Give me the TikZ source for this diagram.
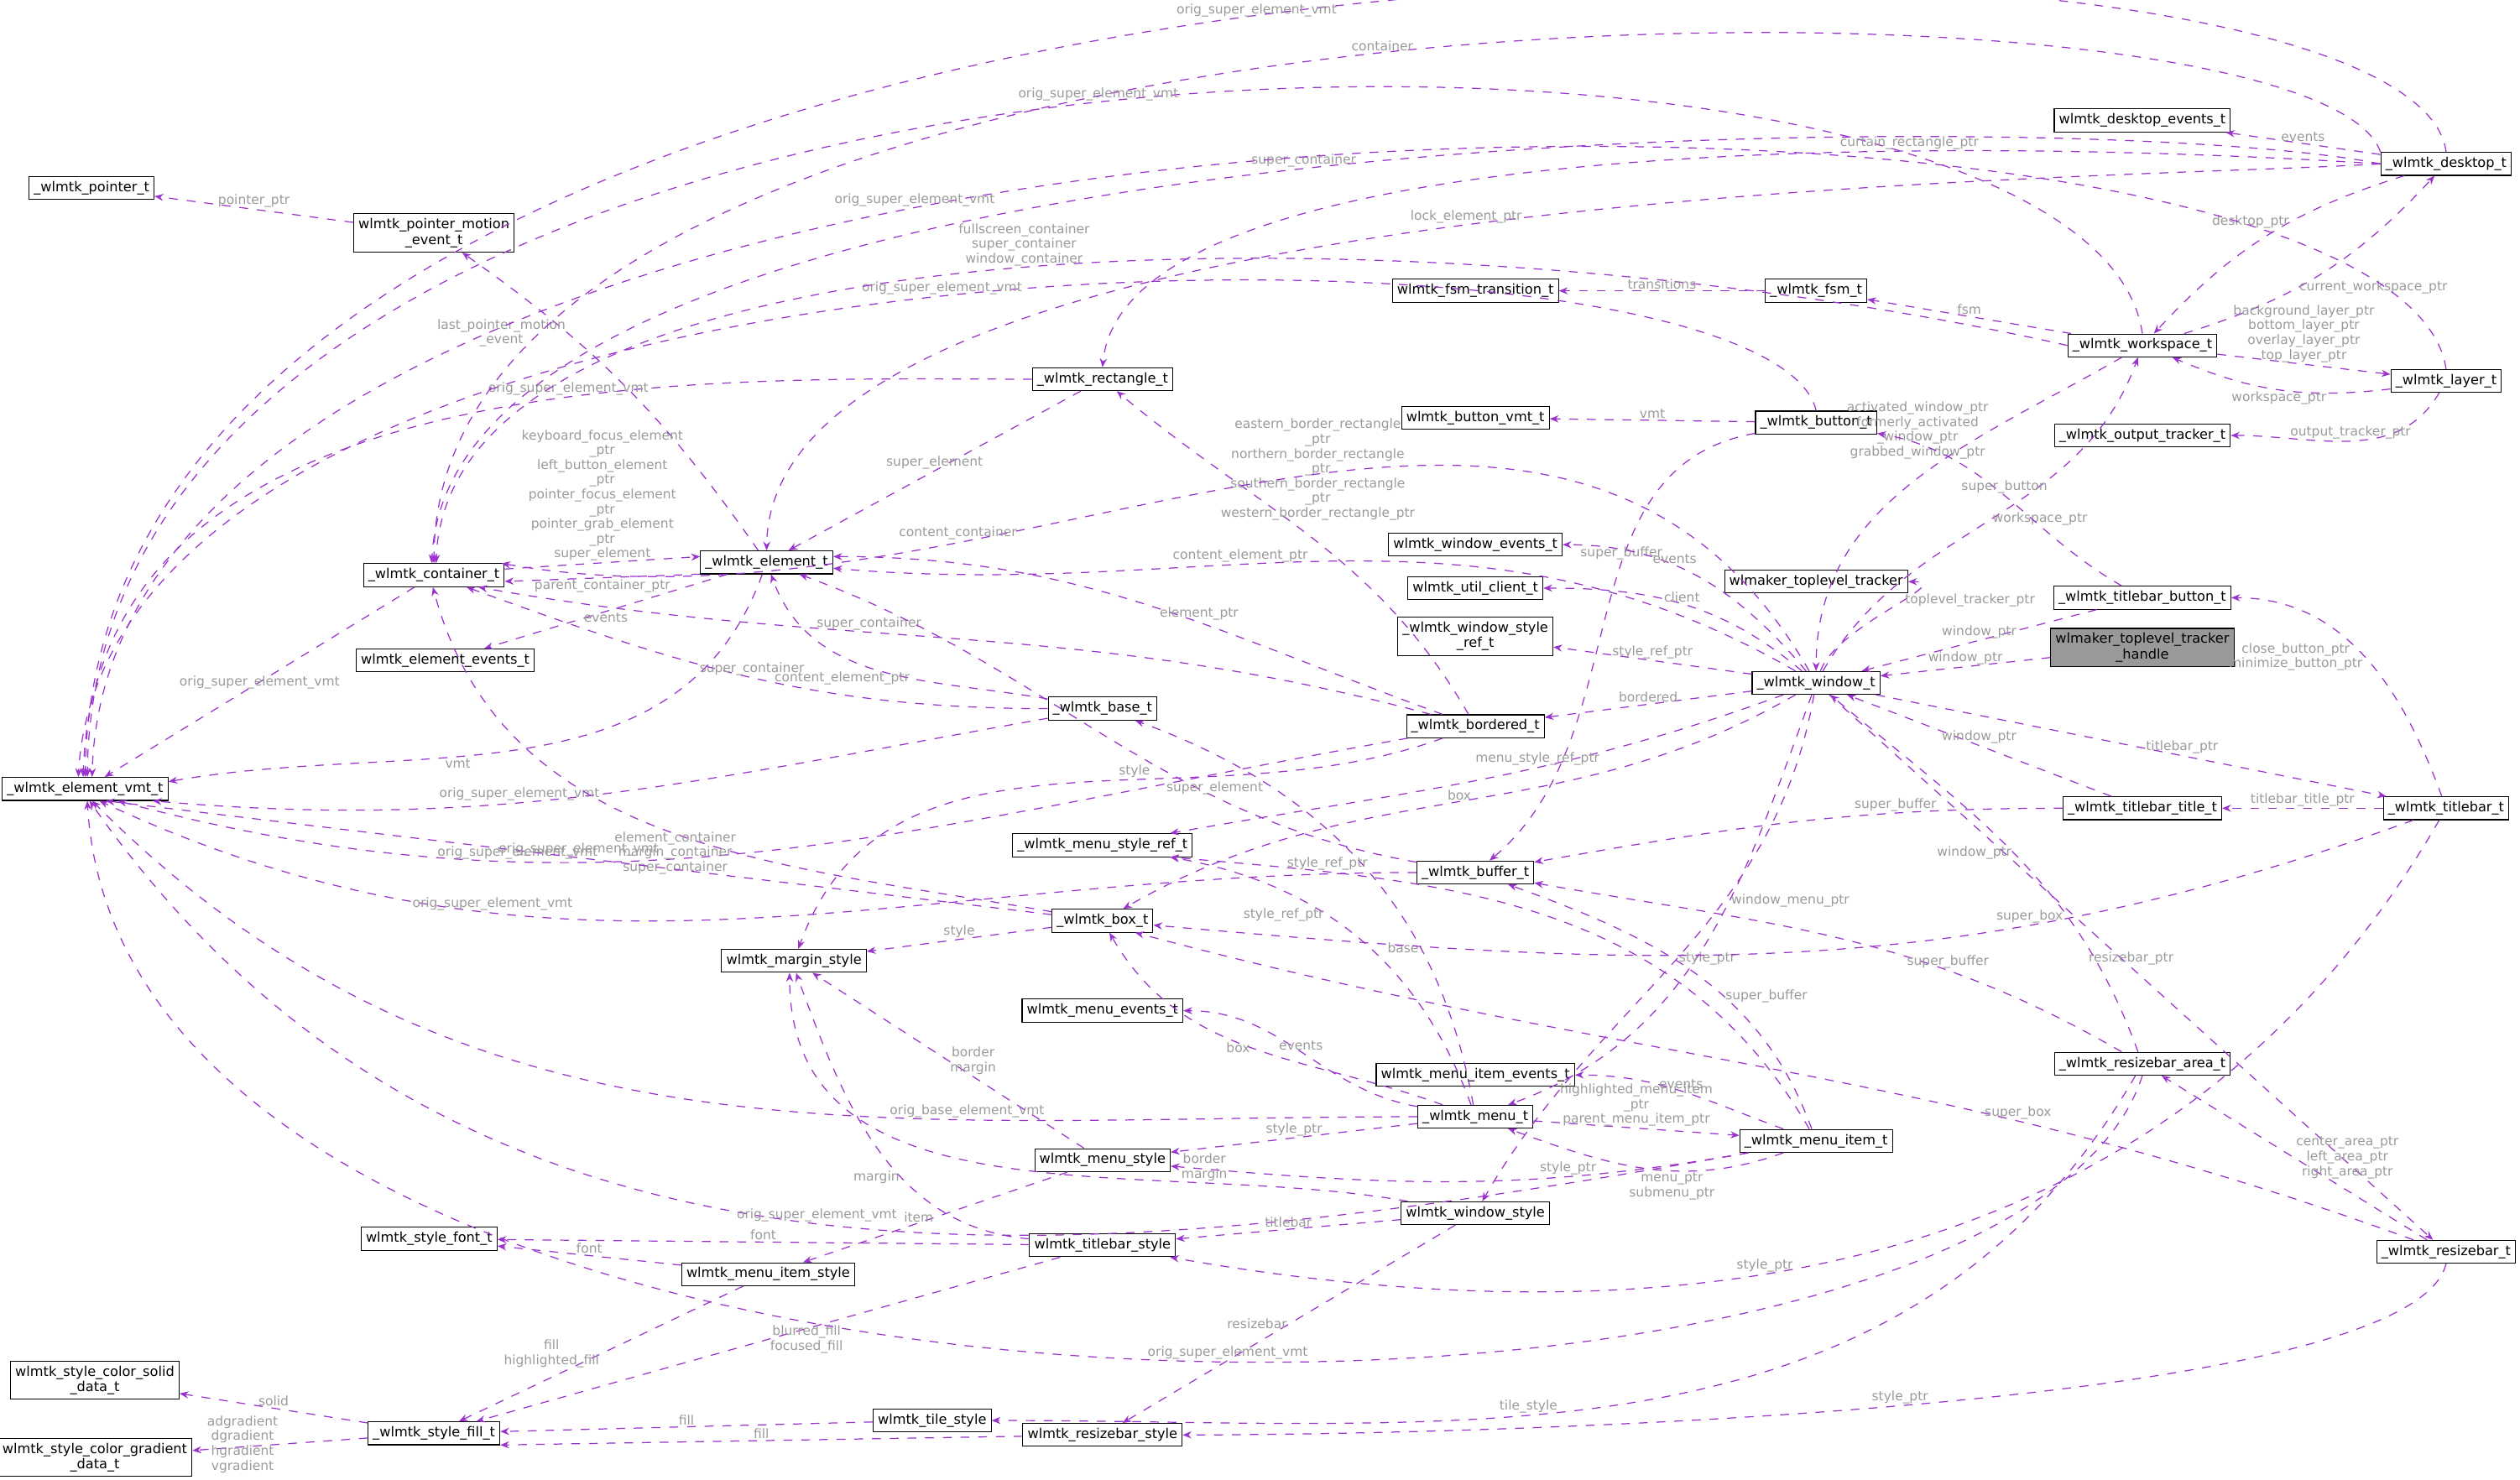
\documentclass[tikz,border=0pt]{standalone}
\usepackage{fontspec}
\setmainfont{DejaVu Sans}
\usetikzlibrary{arrows.meta}
\definecolor{dep}{HTML}{9A32CD}
\definecolor{lblgray}{HTML}{9A9A9A}
\tikzset{
  cls/.style={draw=black,line width=0.3pt,fill=white,rectangle,inner sep=1.6pt,align=center,font=\fontsize{4.6}{5.2}\selectfont},
  dep/.style={draw=dep,dashed,line width=0.35pt,-{Stealth[length=3pt,width=2.4pt]}},
  lbl/.style={font=\fontsize{4.4}{5}\selectfont,text=lblgray,align=center,inner sep=0.5pt}
}
\begin{document}
\begin{tikzpicture}[x=0.01915cm,y=-0.01915cm]
  \useasboundingbox (0,0) rectangle (1568,920.6);
  % classes
  \node[cls] (vmt) at (53,491) {\_wlmtk\_element\_vmt\_t};
  \node[cls] (ptr) at (57,117) {\_wlmtk\_pointer\_t};
  \node[cls] (motion) at (270,145) {wlmtk\_pointer\_motion\\\_event\_t};
  \node[cls] (cont) at (270,358) {\_wlmtk\_container\_t};
  \node[cls] (elem) at (477,350) {\_wlmtk\_element\_t};
  \node[cls] (elev) at (277,411) {wlmtk\_element\_events\_t};
  \node[cls] (rect) at (686,236) {\_wlmtk\_rectangle\_t};
  \node[cls] (base) at (686,441) {\_wlmtk\_base\_t};
  \node[cls] (bord) at (918,452) {\_wlmtk\_bordered\_t};
  \node[cls] (margin) at (494,598) {wlmtk\_margin\_style};
  \node[cls] (msref) at (686,526) {\_wlmtk\_menu\_style\_ref\_t};
  \node[cls] (box) at (686,573) {\_wlmtk\_box\_t};
  \node[cls] (mev) at (686,629) {wlmtk\_menu\_events\_t};
  \node[cls] (mstyle) at (686,722) {wlmtk\_menu\_style};
  \node[cls] (tstyle) at (686,775) {wlmtk\_titlebar\_style};
  \node[cls] (font) at (267,771) {wlmtk\_style\_font\_t};
  \node[cls] (mistyle) at (478,793) {wlmtk\_menu\_item\_style};
  \node[cls] (solid) at (59,859) {wlmtk\_style\_color\_solid\\\_data\_t};
  \node[cls] (grad) at (59,907) {wlmtk\_style\_color\_gradient\\\_data\_t};
  \node[cls] (fill) at (270,892) {\_wlmtk\_style\_fill\_t};
  \node[cls] (tile) at (580,884) {wlmtk\_tile\_style};
  \node[cls] (rstyle) at (686,893) {wlmtk\_resizebar\_style};
  \node[cls] (fsmtr) at (918,181) {wlmtk\_fsm\_transition\_t};
  \node[cls] (bvmt) at (918,260) {wlmtk\_button\_vmt\_t};
  \node[cls] (wev) at (918,339) {wlmtk\_window\_events\_t};
  \node[cls] (client) at (918,366) {wlmtk\_util\_client\_t};
  \node[cls] (wsref) at (918,396) {\_wlmtk\_window\_style\\\_ref\_t};
  \node[cls] (buf) at (918,543) {\_wlmtk\_buffer\_t};
  \node[cls] (miev) at (918,669) {wlmtk\_menu\_item\_events\_t};
  \node[cls] (menu) at (918,695) {\_wlmtk\_menu\_t};
  \node[cls] (wstyle) at (918,755) {wlmtk\_window\_style};
  \node[cls] (dev) at (1333,75) {wlmtk\_desktop\_events\_t};
  \node[cls] (desk) at (1522,102) {\_wlmtk\_desktop\_t};
  \node[cls] (fsm) at (1130,181) {\_wlmtk\_fsm\_t};
  \node[cls] (ws) at (1333,215) {\_wlmtk\_workspace\_t};
  \node[cls] (layer) at (1522,237) {\_wlmtk\_layer\_t};
  \node[cls] (otr) at (1333,271) {\_wlmtk\_output\_tracker\_t};
  \node[cls] (btn) at (1130,263) {\_wlmtk\_button\_t};
  \node[cls] (tt) at (1130,362) {wlmaker\_toplevel\_tracker};
  \node[cls] (win) at (1130,425) {\_wlmtk\_window\_t};
  \node[cls] (tbb) at (1333,372) {\_wlmtk\_titlebar\_button\_t};
  \node[cls,fill=black!40] (tth) at (1333,403) {wlmaker\_toplevel\_tracker\\\_handle};
  \node[cls] (tbt) at (1333,503) {\_wlmtk\_titlebar\_title\_t};
  \node[cls] (tb) at (1522,503) {\_wlmtk\_titlebar\_t};
  \node[cls] (rba) at (1333,662) {\_wlmtk\_resizebar\_area\_t};
  \node[cls] (mi) at (1130,710) {\_wlmtk\_menu\_item\_t};
  \node[cls] (rb) at (1522,779) {\_wlmtk\_resizebar\_t};
  % element and container
  \draw[dep] (motion) -- node[lbl,above]{pointer\_ptr} (ptr);
  \draw[dep] (elem) to[bend right=10] node[lbl,pos=0.7,left]{last\_pointer\_motion\\\_event} (motion);
  \draw[dep] (cont.5) -- node[lbl,above]{keyboard\_focus\_element\\\_ptr\\left\_button\_element\\\_ptr\\pointer\_focus\_element\\\_ptr\\pointer\_grab\_element\\\_ptr\\super\_element} (elem.175);
  \draw[dep] (elem.190) -- node[lbl,below]{parent\_container\_ptr} (cont.-5);
  \draw[dep] (elem) -- node[lbl,below]{events} (elev);
  \draw[dep] (elem) to[out=-110,in=10] node[lbl,pos=0.6,below]{vmt} (vmt.5);
  \draw[dep] (cont) -- node[lbl]{orig\_super\_element\_vmt} (vmt);
  \draw[dep] (rect) -- node[lbl,above]{super\_element} (elem);
  \draw[dep] (rect.west) .. controls (450,236) and (60,220) .. node[lbl,pos=0.4,above]{orig\_super\_element\_vmt} (vmt.100);
  \draw[dep] (base) to[out=170,in=-70] node[lbl,pos=0.4,left]{content\_element\_ptr} (elem);
  \draw[dep] (base) to[out=180,in=-20] node[lbl,pos=0.5,above]{super\_container} (cont);
  \draw[dep] (base) to[out=190,in=-5] node[lbl,pos=0.6,above]{orig\_super\_element\_vmt} (vmt.-10);
  % bordered
  \draw[dep] (bord) to[out=160,in=0] node[lbl,pos=0.4,above]{element\_ptr} (elem.5);
  \draw[dep] (bord) to[out=165,in=-10] node[lbl,pos=0.6,above]{super\_container} (cont.-15);
  \draw[dep] (bord) to[out=120,in=-40] node[lbl,pos=0.75,right]{eastern\_border\_rectangle\\\_ptr\\northern\_border\_rectangle\\\_ptr\\southern\_border\_rectangle\\\_ptr\\western\_border\_rectangle\_ptr} (rect);
  \draw[dep] (bord) to[out=190,in=-15] node[lbl,pos=0.7,above]{orig\_super\_element\_vmt} (vmt.-20);
  \draw[dep] (bord) to[out=200,in=70] node[lbl,pos=0.4,above]{style} (margin);
  % box
  \draw[dep] (box) to[out=170,in=-75] node[lbl,pos=0.4,left]{element\_container\\margin\_container\\super\_container} (cont.-95);
  \draw[dep] (box) -- node[lbl,above]{orig\_super\_element\_vmt} (vmt.-30);
  \draw[dep] (box) -- node[lbl,above]{style} (margin);
  % buffer
  \draw[dep] (buf) to[out=170,in=-20] node[lbl,pos=0.3,above]{super\_element} (elem);
  \draw[dep] (buf) to[out=180,in=-25] node[lbl,pos=0.7,above]{orig\_super\_element\_vmt} (vmt.-40);
  % menu
  \draw[dep] (menu) to[out=160,in=-60] node[lbl,pos=0.5,left]{box} (box);
  \draw[dep] (menu) to[out=170,in=0] node[lbl,pos=0.5,above]{events} (mev);
  \draw[dep] (menu) to[out=180,in=-45] node[lbl,pos=0.3,above]{orig\_base\_element\_vmt} (vmt.-60);
  \draw[dep] (menu) -- node[lbl,above]{style\_ptr} (mstyle);
  \draw[dep] (menu) to[out=110,in=-10] node[lbl,pos=0.6,left]{style\_ref\_ptr} (msref);
  \draw[dep] (menu) to[out=100,in=-20] node[lbl,pos=0.3,left]{base} (base);
  \draw[dep] (menu) -- node[lbl,above]{highlighted\_menu\_item\\\_ptr\\parent\_menu\_item\_ptr} (mi);
  % menu item
  \draw[dep] (mi) to[out=200,in=-20] node[lbl,pos=0.4,below]{menu\_ptr\\submenu\_ptr} (menu);
  \draw[dep] (mi) to[out=160,in=0] node[lbl,pos=0.5,above]{events} (miev);
  \draw[dep] (mi) to[out=110,in=-20] node[lbl,pos=0.4,right]{super\_buffer} (buf);
  \draw[dep] (mi) to[out=120,in=-5] node[lbl,pos=0.8,above]{style\_ref\_ptr} (msref.-10);
  \draw[dep] (mi) to[out=190,in=-5] node[lbl,pos=0.3,above]{style\_ptr} (mstyle);
  \draw[dep] (mi) to[out=190,in=-55] node[lbl,pos=0.5,above]{orig\_super\_element\_vmt} (vmt.-70);
  % styles
  \draw[dep] (mstyle) -- node[lbl,right]{border\\margin} (margin);
  \draw[dep] (mstyle) -- node[lbl,left]{item} (mistyle);
  \draw[dep] (wstyle) to[out=170,in=-90] node[lbl,pos=0.25,above]{border\\margin} (margin.-110);
  \draw[dep] (wstyle) -- node[lbl,above]{titlebar} (tstyle);
  \draw[dep] (wstyle) -- node[lbl,left]{resizebar} (rstyle);
  \draw[dep] (tstyle) -- node[lbl,above]{font} (font);
  \draw[dep] (tstyle) -- node[lbl,right]{blurred\_fill\\focused\_fill} (fill);
  \draw[dep] (tstyle) to[out=175,in=-70] node[lbl,pos=0.4,left]{margin} (margin.-80);
  \draw[dep] (mistyle) -- node[lbl,above]{font} (font);
  \draw[dep] (mistyle) -- node[lbl,left]{fill\\highlighted\_fill} (fill);
  \draw[dep] (fill) -- node[lbl,above]{solid} (solid);
  \draw[dep] (fill) -- node[lbl,left]{adgradient\\dgradient\\hgradient\\vgradient} (grad);
  \draw[dep] (tile) -- node[lbl,above]{fill} (fill);
  \draw[dep] (rstyle) -- node[lbl,above]{fill} (fill.-10);
  % button
  \draw[dep] (btn) -- node[lbl,above]{vmt} (bvmt);
  \draw[dep] (btn) to[out=190,in=40] node[lbl,pos=0.4,above]{super\_buffer} (buf);
  \draw[dep] (btn.north) .. controls (1100,123) and (70,123) .. node[lbl,pos=0.5,above]{orig\_super\_element\_vmt} (vmt.120);
  % desktop and workspace
  \draw[dep] (desk) -- node[lbl,above]{events} (dev);
  \draw[dep] (desk) to[bend right=15] node[lbl,pos=0.4,left]{desktop\_ptr} (ws);
  \draw[dep] (ws) to[bend right=15] node[lbl,pos=0.4,right]{current\_workspace\_ptr} (desk);
  \draw[dep] (desk.north) .. controls (1500,-83) and (60,-83) .. node[lbl,pos=0.5,above=-1pt]{orig\_super\_element\_vmt} (vmt.north);
  \draw[dep] (desk.north west) .. controls (1440,-30) and (270,-30) .. node[lbl,pos=0.5,above]{container} (cont.north);
  \draw[dep] (ws.north) .. controls (1300,-30) and (60,-30) .. node[lbl,pos=0.5,above]{orig\_super\_element\_vmt} (vmt.80);
  \draw[dep] (desk.west) .. controls (1300,65) and (280,65) .. node[lbl,pos=0.5,above]{super\_container} (cont.100);
  \draw[dep] (desk.west) .. controls (1200,84) and (700,84) .. node[lbl,pos=0.3,above]{curtain\_rectangle\_ptr} (rect.north);
  \draw[dep] (desk.west) .. controls (1300,113) and (480,113) .. node[lbl,pos=0.5,above]{lock\_element\_ptr} (elem.north);
  \draw[dep] (ws.west) .. controls (900,128) and (280,128) .. node[lbl,pos=0.5,above]{fullscreen\_container\\super\_container\\window\_container} (cont.80);
  \draw[dep] (ws) -- node[lbl,above]{fsm} (fsm);
  \draw[dep] (fsm) -- node[lbl,above]{transitions} (fsmtr);
  \draw[dep] (ws) -- node[lbl,above]{background\_layer\_ptr\\bottom\_layer\_ptr\\overlay\_layer\_ptr\\top\_layer\_ptr} (layer);
  \draw[dep] (layer) to[bend left=15] node[lbl,below]{workspace\_ptr} (ws);
  \draw[dep] (layer) to[out=-120,in=0] node[lbl,above]{output\_tracker\_ptr} (otr);
  \draw[dep] (layer.north) .. controls (1490,15) and (70,15) .. node[lbl,pos=0.6,above]{orig\_super\_element\_vmt} (vmt.60);
  % window
  \draw[dep] (ws) to[out=-150,in=90] node[lbl,pos=0.3,left]{activated\_window\_ptr\\formerly\_activated\\\_window\_ptr\\grabbed\_window\_ptr} (win);
  \draw[dep] (win) to[out=60,in=-110] node[lbl,pos=0.5,right]{workspace\_ptr} (ws);
  \draw[dep] (win) to[out=130,in=0] node[lbl,pos=0.6,above]{events} (wev);
  \draw[dep] (win) to[out=140,in=0] node[lbl,pos=0.5,above]{client} (client);
  \draw[dep] (win) -- node[lbl,above]{style\_ref\_ptr} (wsref);
  \draw[dep] (win) -- node[lbl,above]{bordered} (bord);
  \draw[dep] (win) to[out=200,in=10] node[lbl,pos=0.4,above]{menu\_style\_ref\_ptr} (msref);
  \draw[dep] (win) to[out=-110,in=20] node[lbl,pos=0.4,right]{window\_menu\_ptr} (menu);
  \draw[dep] (win) to[out=210,in=30] node[lbl,pos=0.5,above]{box} (box);
  \draw[dep] (win) to[out=120,in=-10] node[lbl,pos=0.7,above]{content\_container} (cont.10);
  \draw[dep] (win) to[out=150,in=-5] node[lbl,pos=0.6,above]{content\_element\_ptr} (elem.-5);
  \draw[dep] (win) to[out=-100,in=60] node[lbl,pos=0.5,right]{style\_ptr} (wstyle);
  \draw[dep] (win) -- node[lbl,above,pos=0.6]{titlebar\_ptr} (tb);
  \draw[dep] (win) -- node[lbl,above,pos=0.5]{resizebar\_ptr} (rb);
  \draw[dep] (tth) -- node[lbl,above]{window\_ptr} (win);
  \draw[dep] (win) to[out=70,in=0] node[lbl,pos=0.6,right]{toplevel\_tracker\_ptr} (tt);
  \draw[dep] (tbb) -- node[lbl,above]{window\_ptr} (win);
  \draw[dep] (tbb) to[out=150,in=-10] node[lbl,pos=0.5,above]{super\_button} (btn);
  \draw[dep] (tb) to[out=110,in=0] node[lbl,pos=0.5,left]{close\_button\_ptr\\minimize\_button\_ptr} (tbb);
  \draw[dep] (tb) -- node[lbl,above]{titlebar\_title\_ptr} (tbt);
  \draw[dep] (tbt) -- node[lbl,above]{window\_ptr} (win);
  \draw[dep] (tbt) to[out=180,in=10] node[lbl,pos=0.3,above]{super\_buffer} (buf);
  \draw[dep] (tb) to[out=200,in=-5] node[lbl,pos=0.3,above]{super\_box} (box);
  \draw[dep] (tb) to[out=-120,in=-10] node[lbl,pos=0.6,above]{style\_ptr} (tstyle);
  % resizebar
  \draw[dep] (rba) to[out=110,in=-40] node[lbl,pos=0.5,left]{window\_ptr} (win);
  \draw[dep] (rba) to[out=150,in=-10] node[lbl,pos=0.3,above]{super\_buffer} (buf.-10);
  \draw[dep] (rba) to[out=-120,in=0] node[lbl,pos=0.6,above]{tile\_style} (tile);
  \draw[dep] (rba.south) .. controls (1250,930) and (80,930) .. node[lbl,pos=0.45,above]{orig\_super\_element\_vmt} (vmt.-80);
  \draw[dep] (rb) -- node[lbl,right]{center\_area\_ptr\\left\_area\_ptr\\right\_area\_ptr} (rba);
  \draw[dep] (rb) to[out=160,in=-15] node[lbl,pos=0.3,above]{super\_box} (box.-20);
  \draw[dep] (rb.south) .. controls (1500,880) and (900,893) .. node[lbl,pos=0.5,above]{style\_ptr} (rstyle.east);
\end{tikzpicture}
\end{document}
